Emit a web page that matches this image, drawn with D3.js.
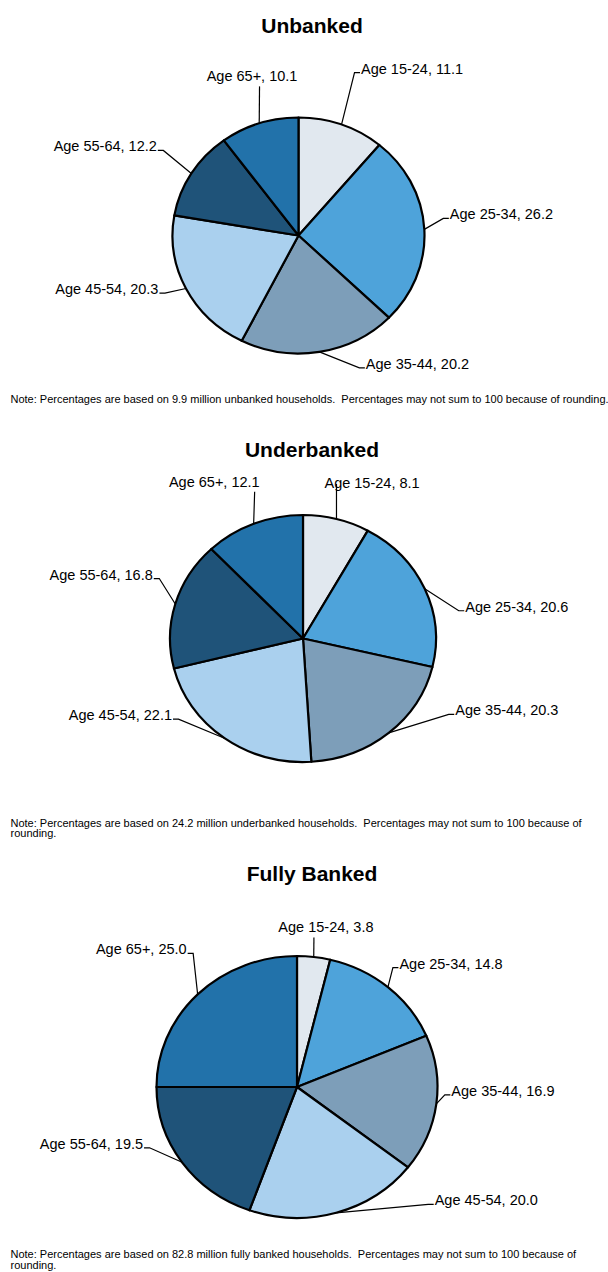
<!DOCTYPE html>
<html>
<head>
<meta charset="utf-8">
<script src="https://cdn.jsdelivr.net/npm/d3@7"></script>
<style>
  body { margin: 0; background: #fff; }
  svg { display: block; font-family: Arial, "Liberation Sans", sans-serif; }
  .note { white-space: pre; }
</style>
</head>
<body>
<div id="chart"></div>
<script>
  // 数据
  var ageGroups = ["Age 15-24", "Age 25-34", "Age 35-44", "Age 45-54", "Age 55-64", "Age 65+"];
  var unbanked = [11.1, 26.2, 20.2, 20.3, 12.2, 10.1];
  var underbanked = [8.1, 20.6, 20.3, 22.1, 16.8, 12.1];
  var fullyBanked = [3.8, 14.8, 16.9, 20.0, 19.5, 25.0];
  var titles = ["Unbanked", "Underbanked", "Fully Banked"];
  var notes = [
    ["Note: Percentages are based on 9.9 million unbanked households.  Percentages may not sum to 100 because of rounding."],
    ["Note: Percentages are based on 24.2 million underbanked households.  Percentages may not sum to 100 because of", "rounding."],
    ["Note: Percentages are based on 82.8 million fully banked households.  Percentages may not sum to 100 because of", "rounding."]
  ];
  var colors = ["#e1e8ef", "#4ea3da", "#7d9eb9", "#aad0ee", "#1f5379", "#2272aa"];

  // 布局 (每个饼图的位置、大小、标签引线)
  var layout = [
    { cx: 298.5, cy: 235.5, rx: 126, ry: 118, titleY: 32.5, noteY: 403,
      labels: [
        { dx: 13, dy: -52, side: 1 },
        { dx: 19, dy: -11, side: 1 },
        { dx: 40, dy: 16, side: 1 },
        { dx: -21, dy: 4.5, side: -1 },
        { dx: -28, dy: -23, side: -1 },
        { dx: 0.3, dy: -37, side: 0, tx: -7.5, ty: -5, anchor: "middle" }
      ] },
    { cx: 303, cy: 638.5, rx: 133, ry: 123.5, titleY: 456.5, noteY: 826.5,
      labels: [
        { dx: 0, dy: -35, side: 0, tx: -12, ty: 4, anchor: "start" },
        { dx: 34, dy: 22, side: 1 },
        { dx: 60, dy: -18.5, side: 1 },
        { dx: -46, dy: -19, side: -1 },
        { dx: -16, dy: -25.5, side: -1 },
        { dx: 1, dy: -32, side: 0, tx: 5, ty: -5, anchor: "end" }
      ] },
    { cx: 297, cy: 1087, rx: 140.5, ry: 131, titleY: 881, noteY: 1258.3,
      labels: [
        { dx: 0.2, dy: -19.5, side: 0, tx: 12, ty: -5, anchor: "middle" },
        { dx: 5, dy: -19.5, side: 1 },
        { dx: 8.5, dy: -9, side: 1 },
        { dx: 92, dy: -8.5, side: 1 },
        { dx: -32.5, dy: -14.5, side: -1 },
        { dx: -4.5, dy: -41, side: -1 }
      ] }
  ];

  var W = 608, H = 1272;
  var svg = d3.select("#chart").append("svg")
    .attr("width", W)
    .attr("height", H);

  var series = [unbanked, underbanked, fullyBanked];

  series.forEach(function(values, k) {
    drawPie(values, k);
  });

  function drawPie(values, k) {
    var cfg = layout[k];
    var data = values.map(function(v, i) { return { label: ageGroups[i], value: v, color: colors[i] }; });

    var pie = d3.pie().sort(null).value(function(d) { return d.value; });
    var arcs = pie(data);
    var arc = d3.arc().innerRadius(0).outerRadius(cfg.rx);

    // 标题
    svg.append("text")
      .attr("x", 312)
      .attr("y", cfg.titleY)
      .attr("text-anchor", "middle")
      .style("font-size", "21px")
      .style("font-weight", "bold")
      .attr("fill", "#000")
      .text(titles[k]);

    // 饼图 (略扁的椭圆)
    var g = svg.append("g")
      .attr("transform", "translate(" + cfg.cx + "," + cfg.cy + ") scale(1," + (cfg.ry / cfg.rx) + ")");

    g.selectAll("path")
      .data(arcs)
      .enter()
      .append("path")
      .attr("d", arc)
      .attr("fill", function(d) { return d.data.color; })
      .attr("stroke", "#000")
      .attr("stroke-width", 2.2)
      .attr("stroke-linejoin", "round")
      .attr("vector-effect", "non-scaling-stroke");

    // 标签和引线
    var lab = svg.append("g");
    arcs.forEach(function(d, i) {
      var a = (d.startAngle + d.endAngle) / 2;
      var ex = cfg.cx + cfg.rx * Math.sin(a);
      var ey = cfg.cy - cfg.ry * Math.cos(a);
      var L = cfg.labels[i];
      var bx = ex + L.dx, by = ey + L.dy;
      var pts = [[ex, ey], [bx, by]];
      var tx, ty, anchor;
      if (L.side !== 0) {
        pts.push([bx + L.side * 5.5, by]);
        tx = bx + L.side * 6.5;
        ty = by + 1;
        anchor = L.side > 0 ? "start" : "end";
      } else {
        tx = bx + L.tx;
        ty = by + L.ty;
        anchor = L.anchor;
      }
      lab.append("path")
        .attr("d", d3.line()(pts))
        .attr("fill", "none")
        .attr("stroke", "#000")
        .attr("stroke-width", 1.2);
      lab.append("text")
        .attr("x", tx)
        .attr("y", ty)
        .attr("text-anchor", anchor)
        .style("font-size", "14.5px")
        .attr("fill", "#000")
        .text(d.data.label + ", " + d3.format(".1f")(d.data.value));
    });

    // 注释
    var note = svg.append("text")
      .attr("class", "note")
      .attr("x", 10.5)
      .attr("y", cfg.noteY)
      .style("font-size", "11px")
      .attr("fill", "#000");
    note.selectAll("tspan")
      .data(notes[k])
      .enter()
      .append("tspan")
      .attr("x", 10.5)
      .attr("dy", function(d, i) { return i === 0 ? 0 : 10.5; })
      .text(function(d) { return d; });
  }
</script>
</body>
</html>
